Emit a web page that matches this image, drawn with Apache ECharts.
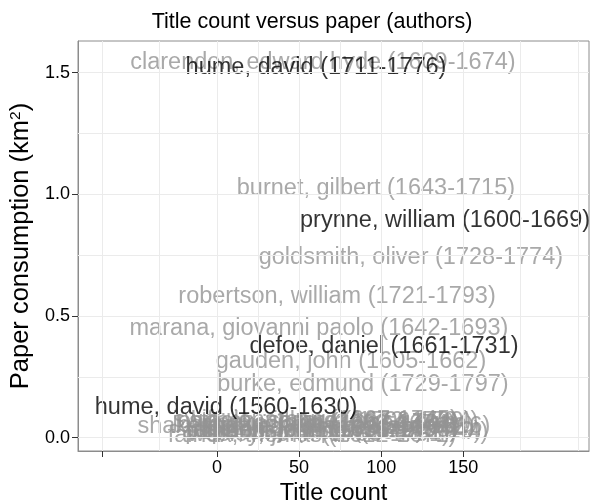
<!DOCTYPE html>
<html>
<head>
<meta charset="utf-8">
<script src="https://cdn.jsdelivr.net/npm/echarts@6/dist/echarts.min.js"></script>
<style>
html,body{margin:0;padding:0;background:#fff;}
#chart{width:594px;height:503px;}
</style>
</head>
<body>
<div id="chart"></div>
<script>
// Highlighted authors (black labels)
const highlightNames = ["hume, david (1711-1776)", "prynne, william (1600-1669)", "defoe, daniel (1661-1731)", "hume, david (1560-1630)"];
const highlightTitles = [60.3, 138.9, 101.7, 5.5];
const highlightPaper = [1.522, 0.893, 0.376, 0.126];

// Other authors (grey labels).
// NOTE: the first seven names are read from the reference. The reference's
// bottom cluster (near 0 km²) is an illegible pile of overlapping labels; only
// "sh…(…6)" and "fairfax, thomas (1612-1671)" are partly readable there.
// The remaining cluster names below are PLACEHOLDERS chosen to reproduce the
// look of that pile, not values read from the source.
const otherNames = [
  "clarendon, edward hyde (1609-1674)",
  "burnet, gilbert (1643-1715)",
  "goldsmith, oliver (1728-1774)",
  "robertson, william (1721-1793)",
  "marana, giovanni paolo (1642-1693)",
  "gauden, john (1605-1662)",
  "burke, edmund (1729-1797)",
  "shakespeare, william (1564-1616)",
  "swift, jonathan (1667-1745)",
  "baxter, richard (1615-1691)",
  "dryden, john (1631-1700)",
  "locke, john (1632-1704)",
  "addison, joseph (1672-1719)",
  "bunyan, john (1628-1688)",
  "milton, john (1608-1674)",
  "tillotson, john (1630-1694)",
  "pope, alexander (1688-1744)",
  "steele, richard (1672-1729)",
  "wesley, john (1703-1791)",
  "johnson, samuel (1709-1784)",
  "charles i (1600-1649)",
  "fairfax, thomas (1612-1671)"
];
const otherTitles = [64.5, 96.8, 118.1, 73.1, 62.1, 81.6, 88.9, 59.0, 60.0, 62.0, 66.0, 72.0, 70.0, 75.0, 68.0, 64.0, 73.0, 69.0, 62.0, 66.0, 58.0, 57.9];
const otherPaper = [1.542, 1.025, 0.742, 0.582, 0.450, 0.315, 0.220, 0.044, 0.070, 0.050, 0.030, 0.060, 0.025, 0.040, 0.055, 0.035, 0.020, 0.065, 0.015, 0.068, 0.025, 0.008];

// Axis breaks
const xTicks = [-70, 0, 50, 100, 150];
const xLabels = [0, 50, 100, 150];
const xGrid = [-70, -35, 0, 25, 50, 75, 100, 125, 150, 185, 220];
const yTicks = [0, 0.5, 1.0, 1.5];
const yGrid = [0, 0.25, 0.5, 0.75, 1.0, 1.25, 1.5];

const FONT = '"Liberation Sans", Arial, Helvetica, sans-serif';

function toData(names, xs, ys) {
  return names.map((n, i) => ({ name: n, value: [xs[i], ys[i]] }));
}

const labelCfg = (color) => ({
  show: true,
  position: 'inside',
  formatter: '{b}',
  color: color,
  fontSize: 23.5,
  fontFamily: FONT,
  align: 'center',
  verticalAlign: 'middle'
});

const chart = echarts.init(document.getElementById('chart'), null, { renderer: 'canvas' });
chart.setOption({
  backgroundColor: '#ffffff',
  animation: false,
  title: {
    text: 'Title count versus paper (authors)',
    left: 307,
    textAlign: 'center',
    top: 6,
    textStyle: { fontFamily: FONT, fontSize: 21.5, fontWeight: 'normal', color: '#000' }
  },
  grid: {
    left: 78, right: 5, top: 41, bottom: 52,
    containLabel: false,
    outerBoundsMode: 'none',
    show: true, borderColor: '#8c8c8c', borderWidth: 1, backgroundColor: '#fff'
  },
  xAxis: {
    type: 'value',
    min: -84.7, max: 226.6,
    name: 'Title count',
    nameLocation: 'middle',
    nameGap: 29,
    nameTextStyle: { fontFamily: FONT, fontSize: 23.5, color: '#000' },
    axisLine: { show: true, onZero: false, lineStyle: { color: '#8c8c8c', width: 1 } },
    axisTick: { show: true, customValues: xTicks, length: 6, lineStyle: { color: '#333' } },
    axisLabel: { customValues: xLabels, fontFamily: FONT, fontSize: 18, color: '#000', margin: 8 },
    splitLine: { show: false }
  },
  yAxis: {
    type: 'value',
    min: -0.0546, max: 1.630,
    name: 'Paper consumption (km{sup|2})',
    nameLocation: 'middle',
    nameRotate: 90,
    nameGap: 44,
    nameTextStyle: {
      fontFamily: FONT, fontSize: 25.5, color: '#000',
      rich: { sup: { fontFamily: FONT, fontSize: 15.5, color: '#000', verticalAlign: 'top', padding: [0, 0, 10, 0] } }
    },
    axisLine: { show: true, onZero: false, lineStyle: { color: '#8c8c8c', width: 1 } },
    axisTick: { show: true, customValues: yTicks, length: 6, lineStyle: { color: '#333' } },
    axisLabel: { customValues: yTicks, formatter: v => v.toFixed(1), fontFamily: FONT, fontSize: 18, color: '#000', margin: 8 },
    splitLine: { show: false }
  },
  series: [
    {
      type: 'scatter',
      silent: true,
      symbolSize: 0,
      data: [],
      z: 1,
      markLine: {
        silent: true,
        symbol: 'none',
        label: { show: false },
        lineStyle: { color: '#ebebeb', width: 1, type: 'solid' },
        data: xGrid.map(v => ({ xAxis: v })).concat(yGrid.map(v => ({ yAxis: v })))
      }
    },
    {
      type: 'scatter',
      silent: true,
      symbolSize: 1,
      itemStyle: { color: 'rgba(0,0,0,0)' },
      label: labelCfg('#939393'),
      labelLayout: { hideOverlap: false },
      data: toData(otherNames, otherTitles, otherPaper),
      z: 2
    },
    {
      type: 'scatter',
      silent: true,
      symbolSize: 1,
      itemStyle: { color: 'rgba(0,0,0,0)' },
      label: labelCfg('#000000'),
      labelLayout: { hideOverlap: false },
      data: toData(highlightNames, highlightTitles, highlightPaper),
      z: 3
    }
  ]
});
</script>
</body>
</html>
